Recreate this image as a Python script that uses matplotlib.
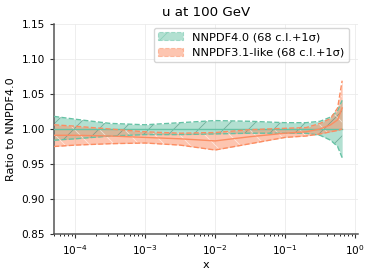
import numpy as np
import matplotlib
matplotlib.use("Agg")
import matplotlib.pyplot as plt
from matplotlib.patches import Patch
from matplotlib.lines import Line2D
from matplotlib.transforms import IdentityTransform

# ---- data ----
logx = [-4.3, -4.0, -3.5, -3.0, -2.5, -2.0, -1.5, -1.0, -0.7, -0.5, -0.35, -0.25, -0.185]

nn40_central = [1.0, 1.0, 1.0, 1.0, 1.0, 1.0, 1.0, 1.0, 1.0, 1.0, 1.0, 1.0, 1.0]
nn40_upper = [1.018, 1.014, 1.008, 1.006, 1.009, 1.012, 1.011, 1.009, 1.009, 1.011, 1.017, 1.026, 1.041]
nn40_lower = [0.984, 0.986, 0.990, 0.992, 0.992, 0.993, 0.994, 0.994, 0.994, 0.991, 0.984, 0.975, 0.959]

nn31_central = [0.991, 0.991, 0.990, 0.988, 0.986, 0.983, 0.989, 0.994, 0.996, 1.000, 1.006, 1.013, 1.030]
nn31_upper = [1.006, 1.004, 1.000, 0.996, 0.994, 0.995, 0.999, 1.001, 1.002, 1.008, 1.015, 1.030, 1.069]
nn31_lower = [0.975, 0.977, 0.979, 0.980, 0.977, 0.970, 0.979, 0.988, 0.990, 0.993, 0.996, 0.998, 1.000]

labels = ["NNPDF4.0 (68 c.l.+1σ)", "NNPDF3.1-like (68 c.l.+1σ)"]
colors = ["#66c2a5", "#fc8d62"]
hatch_dirs = [1, -1]            # '/' and '\'
hatch_colors = ["#4a8c76", "#ffffff"]
hatches = ["/", "\\"]

title = "u at 100 GeV"
xlabel = "x"
ylabel = "Ratio to NNPDF4.0"

# ---- plot ----
plt.rcParams["font.family"] = ["DejaVu Sans"]
plt.rcParams["hatch.linewidth"] = 0.6
plt.rcParams["hatch.color"] = "#777777"

fig = plt.figure(figsize=(3.74, 2.75), dpi=100)
ax = fig.add_axes([54/374, 1-234/275, (358-54)/374, (234-24)/275])

ax.set_xscale("log")
ax.set_xlim(5e-5, 1.1)
ax.set_ylim(0.85, 1.15)

x = 10 ** np.array(logx)
series = [
    (nn40_central, nn40_upper, nn40_lower),
    (nn31_central, nn31_upper, nn31_lower),
]
bb = ax.get_window_extent()
W, H = bb.width, bb.height
spacing = 25.0
handles = []
for (c, u, l), col, hd, hc, h, lab in zip(series, colors, hatch_dirs,
                                          hatch_colors, hatches, labels):
    poly = ax.fill_between(x, l, u, facecolor=col, alpha=0.5,
                           edgecolor=col, linewidth=0.0, zorder=2)
    clip = poly.get_paths()[0]
    for off in np.arange(-H, W + H, spacing):
        if hd > 0:
            xs = [bb.x0 + off, bb.x0 + off + H]
            ys = [bb.y0, bb.y1]
        else:
            xs = [bb.x0 + off, bb.x0 + off + H]
            ys = [bb.y1, bb.y0]
        ln = Line2D(xs, ys, transform=IdentityTransform(), color=hc,
                    lw=0.6, alpha=0.6, zorder=2.5)
        ax.add_line(ln)
        ln.set_clip_path(clip, ax.transData)
    ax.plot(x, u, color=col, ls="--", lw=1.0, zorder=3)
    ax.plot(x, l, color=col, ls="--", lw=1.0, zorder=3)
    ax.plot(x, c, color=col, ls="-", lw=1.0, zorder=3)
    handles.append(Patch(facecolor=col, alpha=0.5, hatch=h, edgecolor=col,
                         linestyle="--", linewidth=0.8, label=lab))

ax.set_yticks([0.85, 0.90, 0.95, 1.00, 1.05, 1.10, 1.15])
ax.grid(True, color="#ebebeb", lw=0.6, zorder=0)
for s in ["top", "right"]:
    ax.spines[s].set_visible(False)
for s in ["left", "bottom"]:
    ax.spines[s].set_color("#555555")
    ax.spines[s].set_linewidth(1.1)
ax.tick_params(labelsize=7.6, colors="#333333", labelcolor="black", length=3)
ax.tick_params(which="minor", length=1.5)

ax.set_title(title, fontsize=9.6, pad=6)
ax.set_xlabel(xlabel, fontsize=8.1, labelpad=2)
ax.set_ylabel(ylabel, fontsize=8.1, labelpad=4)

leg = ax.legend(handles=handles, loc="upper right", fontsize=8.2,
                frameon=True, handlelength=2.2, borderpad=0.4,
                bbox_to_anchor=(0.99, 1.01))
leg.get_frame().set_edgecolor("#cccccc")

fig.savefig("out.png", dpi=100)
